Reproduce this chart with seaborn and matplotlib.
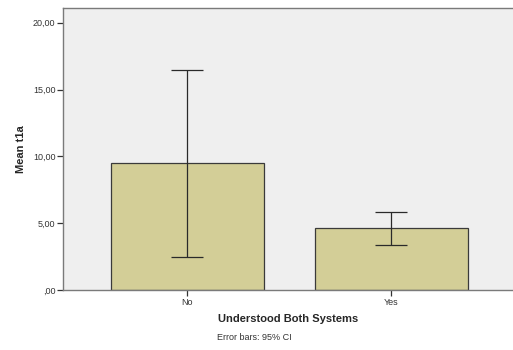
import matplotlib
matplotlib.use("Agg")
import matplotlib.pyplot as plt
import seaborn as sns
import pandas as pd

# Group means of t1a with 95% confidence limits
groups = ["No", "Yes"]
means = [9.47, 4.62]
ci_low = [2.50, 3.36]
ci_high = [16.45, 5.86]
yticks = [0, 5, 10, 15, 20]
ytick_labels = [",00", "5,00", "10,00", "15,00", "20,00"]

df = pd.DataFrame({"group": groups, "mean": means})

sns.set_style("white")
plt.rcParams["font.family"] = ["Liberation Sans", "DejaVu Sans"]

fig = plt.figure(figsize=(5.13, 3.5), dpi=100)
ax = fig.add_axes([0.1228, 0.1714, 0.8772, 0.8057])
ax.set_facecolor("#EFEFEF")

sns.barplot(data=df, x="group", y="mean", color="#D3CE97", saturation=1,
            width=0.75, errorbar=None, edgecolor="#3A3A3A", linewidth=0.9, ax=ax)

lower = [m - lo for m, lo in zip(means, ci_low)]
upper = [hi - m for m, hi in zip(means, ci_high)]
ax.errorbar(range(len(groups)), means, yerr=[lower, upper], fmt="none",
            ecolor="#2A2A2A", elinewidth=0.9, capsize=11.5, capthick=0.9)

ax.set_xlim(-0.608, 1.598)
ax.set_ylim(0, 21.1)
ax.set_yticks(yticks)
ax.set_yticklabels(ytick_labels)

ax.spines["right"].set_visible(False)
for side in ["left", "bottom", "top"]:
    ax.spines[side].set_color("#7A7A7A")
    ax.spines[side].set_linewidth(1.0)

ax.tick_params(axis="both", direction="out", length=4, width=0.9, color="#333333",
               labelsize=6.5, labelcolor="#333333", pad=1.5)
ax.tick_params(axis="y", left=True)
ax.tick_params(axis="x", bottom=True)

ax.set_xlabel("Understood Both Systems", fontsize=8, fontweight="bold", labelpad=5)
ax.set_ylabel("Mean t1a", fontsize=8, fontweight="bold", labelpad=5)

fig.text(0.423, 0.028, "Error bars: 95% CI", fontsize=6.5, color="#333333")

fig.savefig("out.png", dpi=100)
